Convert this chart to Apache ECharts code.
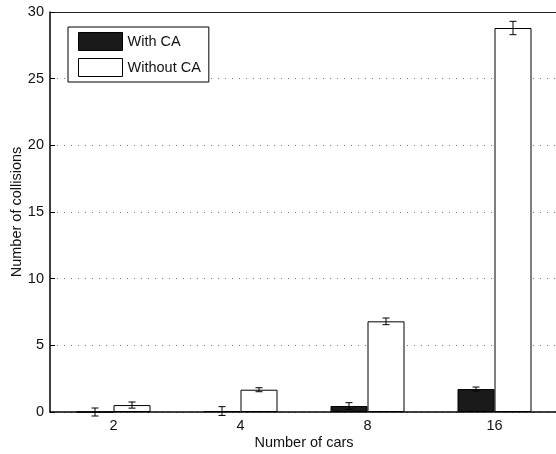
<!DOCTYPE html>
<html>
<head>
<meta charset="utf-8">
<script src="https://cdn.jsdelivr.net/npm/echarts@6/dist/echarts.min.js"></script>
<style>
html,body{margin:0;padding:0;background:#fff;}
#chart{width:556px;height:454px;}
</style>
</head>
<body>
<div id="chart"></div>
<script>
// ---- data ----
var categories = ['2', '4', '8', '16'];
var withCA = [0, 0.07, 0.45, 1.72];
var withoutCA = [0.52, 1.67, 6.8, 28.8];
var withCAErr = [0.3, 0.33, 0.25, 0.15];
var withoutCAErr = [0.23, 0.15, 0.25, 0.5];
var yTicks = [0, 5, 10, 15, 20, 25, 30];

var BAR_W = 37;
var FONT = 'Liberation Sans, Arial, Helvetica, sans-serif';
var FS = 14.5;

function errData(vals, errs) {
  return vals.map(function (v, i) { return [i, v, errs[i]]; });
}

function errRender(offset) {
  return function (params, api) {
    var i = api.value(0), v = api.value(1), e = api.value(2);
    var hi = api.coord([i, v + e]);
    var lo = api.coord([i, v - e]);
    var x = hi[0] + offset;
    var cap = 3.5;
    var st = { stroke: '#000', lineWidth: 1 };
    return {
      type: 'group',
      children: [
        { type: 'line', shape: { x1: x, y1: hi[1], x2: x, y2: lo[1] }, style: st },
        { type: 'line', shape: { x1: x - cap, y1: hi[1], x2: x + cap, y2: hi[1] }, style: st },
        { type: 'line', shape: { x1: x - cap, y1: lo[1], x2: x + cap, y2: lo[1] }, style: st }
      ]
    };
  };
}

var chart = echarts.init(document.getElementById('chart'), null, { renderer: 'canvas' });
chart.setOption({
  animation: false,
  backgroundColor: '#fff',
  textStyle: { fontFamily: FONT },
  grid: { left: 50, top: 12, width: 508, height: 400, containLabel: false, outerBoundsMode: 'none' },
  legend: {
    orient: 'vertical',
    left: 68, top: 27,
    itemWidth: 44, itemHeight: 18, itemGap: 7,
    padding: [5, 8, 5, 10],
    itemTextGap: 4,
    backgroundColor: '#fff',
    borderColor: '#000', borderWidth: 1,
    textStyle: { fontSize: FS, color: '#111', fontFamily: FONT },
    data: [
      { name: 'With CA', icon: 'rect', itemStyle: { color: '#1a1a1a', borderColor: '#000', borderWidth: 1 } },
      { name: 'Without CA', icon: 'rect', itemStyle: { color: '#fff', borderColor: '#000', borderWidth: 1 } }
    ]
  },
  xAxis: [
    {
      type: 'category', data: categories, position: 'bottom',
      name: 'Number of cars', nameLocation: 'middle', nameGap: 23, nameMoveOverlap: false,
      nameTextStyle: { fontSize: FS, color: '#111', fontFamily: FONT },
      axisLine: { lineStyle: { color: '#000', width: 1.5 } },
      axisTick: { inside: true, alignWithLabel: true, length: 5, lineStyle: { color: '#000' } },
      axisLabel: { fontSize: FS, color: '#111', margin: 6, fontFamily: FONT },
      splitLine: { show: false }
    },
    {
      type: 'category', data: categories, position: 'top',
      axisLine: { lineStyle: { color: '#222', width: 1 } },
      axisTick: { inside: true, alignWithLabel: true, length: 5, lineStyle: { color: '#000' } },
      axisLabel: { show: false },
      splitLine: { show: false }
    }
  ],
  yAxis: {
    type: 'value', min: 0, max: 30, interval: 5,
    name: 'Number of collisions', nameLocation: 'middle', nameGap: 26, nameMoveOverlap: false,
    nameTextStyle: { fontSize: FS, color: '#111', fontFamily: FONT },
    axisLine: { show: true, lineStyle: { color: '#000', width: 1.5 } },
    axisTick: { show: true, inside: true, length: 5, lineStyle: { color: '#000' } },
    axisLabel: { fontSize: FS, color: '#111', margin: 6, fontFamily: FONT,
      formatter: function (v) { return yTicks.indexOf(v) >= 0 ? String(v) : ''; } },
    splitLine: { show: true, lineStyle: { color: '#777', width: 1, type: [1, 6] } }
  },
  series: [
    {
      name: 'With CA', type: 'bar', data: withCA, barWidth: BAR_W, barGap: '0%',
      itemStyle: { color: '#1a1a1a', borderColor: '#000', borderWidth: 1 }, z: 3
    },
    {
      name: 'Without CA', type: 'bar', data: withoutCA, barWidth: BAR_W, barGap: '0%',
      itemStyle: { color: '#fff', borderColor: '#000', borderWidth: 1 }, z: 3
    },
    {
      name: 'errWith', type: 'custom', data: errData(withCA, withCAErr),
      renderItem: errRender(-BAR_W / 2), z: 5, silent: true, clip: false
    },
    {
      name: 'errWithout', type: 'custom', data: errData(withoutCA, withoutCAErr),
      renderItem: errRender(BAR_W / 2), z: 5, silent: true, clip: false
    }
  ]
});
</script>
</body>
</html>
